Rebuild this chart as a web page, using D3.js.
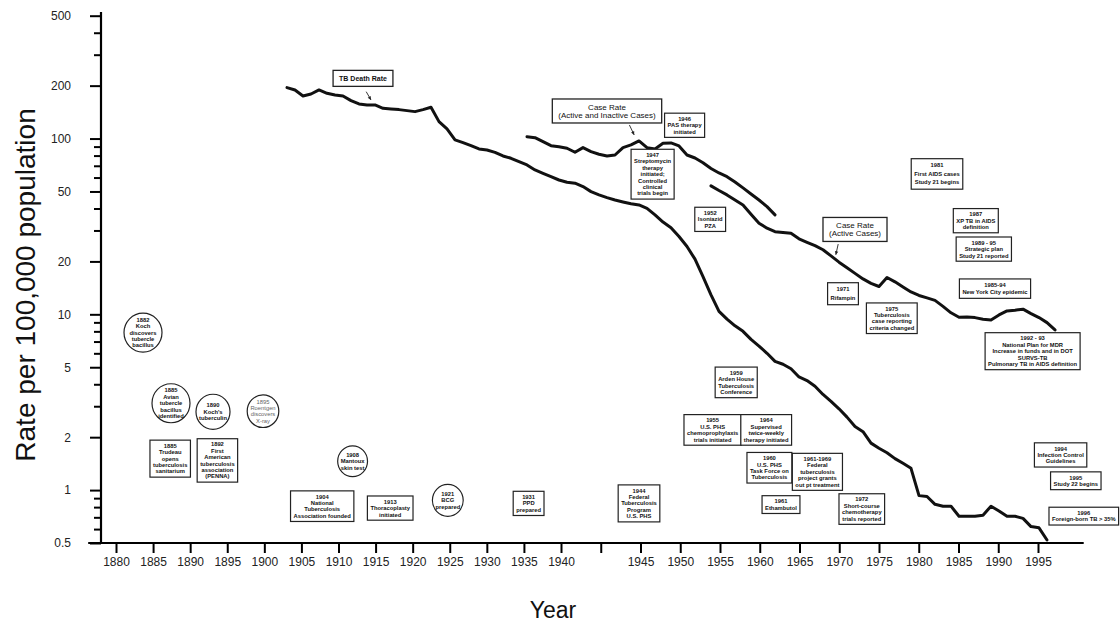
<!DOCTYPE html>
<html>
<head>
<meta charset="utf-8">
<script src="https://cdn.jsdelivr.net/npm/d3@7/dist/d3.min.js"></script>
<style>
  body { margin: 0; background: #fff; }
  svg { display: block; font-family: "Liberation Sans", Arial, sans-serif; }
  .curve { fill: none; stroke: #111; stroke-width: 3; stroke-linejoin: round; stroke-linecap: round; }
  .axis path { display: none; }
  .axis line { stroke: #000; stroke-width: 2; }
  .axis text { font-size: 12px; fill: #222; }
  .note rect, .note ellipse { fill: #fff; stroke: #222; stroke-width: 1.2; }
  .note text { font-size: 5.8px; font-weight: bold; fill: #111; text-anchor: middle; }
  .callout rect { fill: #fff; stroke: #222; stroke-width: 1.3; }
  .callout text { font-size: 8px; fill: #111; text-anchor: middle; }
</style>
</head>
<body>
<svg width="1120" height="624"></svg>
<script>
// rates per 100,000, one value per year
var deathStart = 1900;
var deathRate = [194.9, 189, 174.7, 179.3, 189, 180.9, 177, 174.7, 164.4, 157.3,
    155.3, 155.3, 148.7, 147.4, 146.1, 144.2, 142.3, 146.1, 150.6, 124.8,
    113.4, 98.2, 94.8, 91.2, 87.3, 86.1, 83.5, 79.6, 77.2, 73.9,
    70.8, 66.3, 63.4, 60.7, 58.1, 56.4, 55.7, 53.3, 49.9, 47.8,
    46.1, 44.7, 43.6, 42.6, 41.9, 40.1, 36.8, 33.5, 31.1, 27.7,
    24.3, 20.6, 16.4, 12.9, 10.4, 9.4, 8.6, 8.0, 7.2, 6.6,
    6.0, 5.4, 5.2, 4.9, 4.4, 4.2, 3.9, 3.5, 3.2, 2.9,
    2.6, 2.3, 2.15, 1.85, 1.73, 1.63, 1.51, 1.42, 1.33, 0.93,
    0.92, 0.83, 0.81, 0.81, 0.71, 0.71, 0.71, 0.72, 0.81, 0.76,
    0.71, 0.71, 0.69, 0.62, 0.61, 0.52];

var caseAllStart = 1930;
var caseAllRate = [102.5, 101.2, 96.0, 91.1, 89.9, 88.1, 83.6, 88.8, 84.2, 81.4,
    79.6, 80.6, 88.8, 92.0, 96.9, 88.8, 87.3, 94.0, 94.4, 90.8,
    80.6, 77.5, 72.9, 67.6, 63.7, 60.7, 56.6, 52.4, 48.4, 44.7,
    41.0, 36.8];

var caseActiveStart = 1953;
var caseActiveRate = [53.8, 50.6, 47.8, 44.7, 41.9, 37.1, 33.0, 30.9, 29.5, 29.2,
    28.9, 26.9, 25.7, 24.6, 23.3, 21.5, 19.8, 18.4, 17.1, 15.9,
    15.0, 14.4, 16.2, 15.3, 14.3, 13.4, 12.8, 12.4, 12.0, 11.1,
    10.2, 9.62, 9.65, 9.58, 9.38, 9.29, 9.92, 10.45, 10.55, 10.7,
    10.1, 9.58, 8.97, 8.15];

// x axis labels as printed (one tick carries no label)
var tickLabels = ["1880", "1885", "1890", "1895", "1900", "1905", "1910", "1915", "1920",
    "1925", "1930", "1935", "1940", "", "1945", "1950", "1955", "1960", "1965", "1970",
    "1975", "1980", "1985", "1990", "1995"];

var yMajor = [0.5, 1, 2, 5, 10, 20, 50, 100, 200, 500];
var yMinor = [0.6, 0.7, 0.8, 0.9, 3, 4, 6, 7, 8, 9, 30, 40, 60, 70, 80, 90, 300, 400];

var seriesLabels = [
    { lines: ["TB Death Rate"], yr: 1909.5, rate: 220, bold: true, arrow: [[1909.9, 184.8], [1910.5, 165.8]] },
    { lines: ["Case Rate", "(Active and Inactive Cases)"], yr: 1940, rate: 143.5, arrow: [[1942.8, 119.5], [1943.4, 104.8]] },
    { lines: ["Case Rate", "(Active Cases)"], yr: 1971, rate: 30.4, arrow: [[1968.9, 25.1], [1968.6, 21.8]] }
];

var events = [
    { yr: 1882, rate: 7.87, shape: "circle", lines: ["1882", "Koch", "discovers", "tubercle", "bacillus"] },
    { yr: 1885.5, rate: 3.12, shape: "circle", lines: ["1885", "Avian", "tubercle", "bacillus", "identified"] },
    { yr: 1890.75, rate: 2.79, shape: "circle", lines: ["1890", "Koch's", "tuberculin"] },
    { yr: 1897, rate: 2.81, shape: "circle", lines: ["1895", "Roentgen", "discovers", "X-ray"], faint: true },
    { yr: 1885.4, rate: 1.51, shape: "box", lines: ["1885", "Trudeau", "opens", "tuberculosis", "sanitarium"] },
    { yr: 1891.3, rate: 1.475, shape: "box", lines: ["1892", "First", "American", "tuberculosis", "association", "(PENNA)"] },
    { yr: 1908.2, rate: 1.46, shape: "circle", lines: ["1908", "Mantoux", "skin test"] },
    { yr: 1904.4, rate: 0.81, shape: "box", lines: ["1904", "National", "Tuberculosis", "Association founded"] },
    { yr: 1912.9, rate: 0.79, shape: "box", lines: ["1913", "Thoracoplasty", "initiated"] },
    { yr: 1920.1, rate: 0.874, shape: "circle", lines: ["1921", "BCG", "prepared"] },
    { yr: 1930.2, rate: 0.84, shape: "box", lines: ["1931", "PPD", "prepared"] },
    { yr: 1944, rate: 0.84, shape: "box", lines: ["1944", "Federal", "Tuberculosis", "Program", "U.S. PHS"] },
    { yr: 1945.7, rate: 62.7, shape: "box", lines: ["1947", "Streptomycin", "therapy", "initiated;", "Controlled", "clinical", "trials begin"] },
    { yr: 1949.7, rate: 119, shape: "box", lines: ["1946", "PAS therapy", "initiated"] },
    { yr: 1952.9, rate: 34.7, shape: "box", lines: ["1952", "Isoniazid", "PZA"] },
    { yr: 1956.15, rate: 4.1, shape: "box", lines: ["1959", "Arden House", "Tuberculosis", "Conference"] },
    { yr: 1953.2, rate: 2.2, shape: "box", lines: ["1955", "U.S. PHS", "chemoprophylaxis", "trials initiated"] },
    { yr: 1959.9, rate: 2.2, shape: "box", lines: ["1964", "Supervised", "twice-weekly", "therapy initiated"] },
    { yr: 1960.3, rate: 1.34, shape: "box", lines: ["1960", "U.S. PHS", "Task Force on", "Tuberculosis"] },
    { yr: 1966.3, rate: 1.27, shape: "box", lines: ["1961-1969", "Federal", "tuberculosis", "project grants", "out pt treatment"] },
    { yr: 1961.75, rate: 0.827, shape: "box", lines: ["1961", "Ethambutol"] },
    { yr: 1971.85, rate: 0.78, shape: "box", lines: ["1972", "Short-course", "chemotherapy", "trials reported"] },
    { yr: 1969.5, rate: 13.1, shape: "box", lines: ["1971", "Rifampin"], lh: 8.5 },
    { yr: 1975.6, rate: 9.5, shape: "box", lines: ["1975", "Tuberculosis", "case reporting", "criteria changed"] },
    { yr: 1981.25, rate: 62.9, shape: "box", lines: ["1981", "First AIDS cases", "Study 21 begins"], lh: 8.5 },
    { yr: 1986.1, rate: 34.1, shape: "box", lines: ["1987", "XP TB in AIDS", "definition"] },
    { yr: 1987.1, rate: 23.5, shape: "box", lines: ["1989 - 95", "Strategic plan", "Study 21 reported"] },
    { yr: 1988.5, rate: 14.0, shape: "box", lines: ["1985-94", "New York City epidemic"], lh: 7.2 },
    { yr: 1993.2, rate: 6.17, shape: "box", lines: ["1992 - 93", "National Plan for MDR", "Increase in funds and in DOT", "SURVS-TB", "Pulmonary TB in AIDS definition"] },
    { yr: 1996.7, rate: 1.585, shape: "box", lines: ["1994", "Infection Control", "Guidelines"] },
    { yr: 1998.6, rate: 1.13, shape: "box", lines: ["1995", "Study 22 begins"] },
    { yr: 1999.6, rate: 0.711, shape: "box", lines: ["1996", "Foreign-born TB > 35%"] }
];

var loadVis = function() {

    var svg = d3.select("svg");

    var x = d3.scaleLinear()
        .domain([1900, 1996])
        .range([287, 1055]);

    var y = d3.scaleLog()
        .domain([0.5, 500])
        .range([543, 15.7]);

    // tick positions of the printed axis, by tick index
    var xTick = d3.scaleLinear()
        .domain([0, 12, 24])
        .range([116, 561, 1038]);

    var axisX = 101, axisY = y(0.5);

    // y axis
    svg.append("g")
        .attr("class", "axis")
        .attr("transform", "translate(" + axisX + ",0)")
        .call(d3.axisLeft(y).tickValues(yMajor).tickSize(11).tickPadding(19)
            .tickFormat(function(d) { return String(d); }));

    svg.append("g")
        .attr("class", "axis")
        .attr("transform", "translate(" + axisX + ",0)")
        .call(d3.axisLeft(y).tickValues(yMinor).tickSize(7).tickFormat(""));

    svg.append("line")
        .attr("x1", axisX).attr("x2", axisX)
        .attr("y1", y(525)).attr("y2", axisY)
        .style("stroke", "#000").style("stroke-width", 2.2);

    // x axis
    svg.append("g")
        .attr("class", "axis")
        .attr("transform", "translate(0," + axisY + ")")
        .call(d3.axisBottom(xTick).tickValues(d3.range(tickLabels.length)).tickSize(10).tickPadding(4)
            .tickFormat(function(i) { return tickLabels[i]; }));

    svg.append("line")
        .attr("x1", xTick(-0.75)).attr("x2", xTick(25.15))
        .attr("y1", axisY).attr("y2", axisY)
        .style("stroke", "#000").style("stroke-width", 2.2);

    // axis titles
    svg.append("text")
        .attr("transform", "translate(35,285) rotate(-90)")
        .attr("text-anchor", "middle")
        .style("font-size", "28px")
        .style("fill", "#111")
        .text("Rate per 100,000 population");

    svg.append("text")
        .attr("x", 553).attr("y", 618)
        .attr("text-anchor", "middle")
        .style("font-size", "23px")
        .style("fill", "#111")
        .text("Year");

    // curves
    var line = d3.line()
        .x(function(d) { return x(d.yr); })
        .y(function(d) { return y(d.v); });

    var toPoints = function(start, values) {
        return values.map(function(v, i) { return { yr: start + i, v: v }; });
    };

    svg.append("g").selectAll("path")
        .data([toPoints(deathStart, deathRate), toPoints(caseAllStart, caseAllRate), toPoints(caseActiveStart, caseActiveRate)])
        .enter().append("path")
            .attr("class", "curve")
            .attr("d", line);

    // text blocks centred on a point
    var writeLines = function(g, lines, lh, fs) {
        var n = lines.length;
        g.selectAll("text")
            .data(lines).enter()
            .append("text")
                .attr("x", 0)
                .attr("y", function(d, i) { return (i - (n - 1) / 2) * lh + fs * 0.35; })
                .text(function(d) { return d; });
    };

    // series labels with arrows
    var callouts = svg.append("g").selectAll("g")
        .data(seriesLabels).enter()
        .append("g")
            .attr("class", "callout");

    callouts.each(function(d) {
        var g = d3.select(this);
        var box = g.append("g").attr("transform", "translate(" + x(d.yr) + "," + y(d.rate) + ")");
        var r = box.append("rect");
        writeLines(box, d.lines, 8, 8);
        box.selectAll("text").style("font-weight", d.bold ? "bold" : "normal")
            .style("font-size", d.bold ? "7px" : "8px");
        var w = d3.max(box.selectAll("text").nodes(), function(n) { return n.getComputedTextLength(); });
        var h = d.lines.length * 8;
        r.attr("x", -w / 2 - 6).attr("y", -h / 2 - 4)
            .attr("width", w + 12).attr("height", h + 8);

        var a = d.arrow;
        var x1 = x(a[0][0]), y1 = y(a[0][1]), x2 = x(a[1][0]), y2 = y(a[1][1]);
        var ang = Math.atan2(y2 - y1, x2 - x1);
        g.append("line")
            .attr("x1", x1).attr("y1", y1).attr("x2", x2).attr("y2", y2)
            .style("stroke", "#222").style("stroke-width", 0.9);
        g.append("path")
            .attr("d", "M" + x2 + "," + y2 +
                "L" + (x2 - 4 * Math.cos(ang - 0.45)) + "," + (y2 - 4 * Math.sin(ang - 0.45)) +
                "L" + (x2 - 4 * Math.cos(ang + 0.45)) + "," + (y2 - 4 * Math.sin(ang + 0.45)) + "Z")
            .style("fill", "#222");
    });

    // event notes
    var notes = svg.append("g").selectAll("g")
        .data(events).enter()
        .append("g")
            .attr("class", "note")
            .attr("transform", function(d) { return "translate(" + x(d.yr) + "," + y(d.rate) + ")"; });

    notes.each(function(d) {
        var g = d3.select(this);
        var lh = d.lh || 6.4;
        var shape = g.append(d.shape === "circle" ? "ellipse" : "rect");
        writeLines(g, d.lines, lh, 5.8);
        if (d.faint) g.selectAll("text").style("fill", "#666").style("font-weight", "normal");
        var w = d3.max(g.selectAll("text").nodes(), function(n) { return n.getComputedTextLength(); });
        var h = d.lines.length * lh;
        if (d.shape === "circle") {
            var rr = Math.max(w, h) / 2 + 3;
            shape.attr("rx", rr).attr("ry", rr + 0.5);
        } else {
            shape.attr("x", -w / 2 - 3).attr("y", -h / 2 - 2.5)
                .attr("width", w + 6).attr("height", h + 5);
        }
    });
};

document.addEventListener('DOMContentLoaded', loadVis, false);
</script>
</body>
</html>
